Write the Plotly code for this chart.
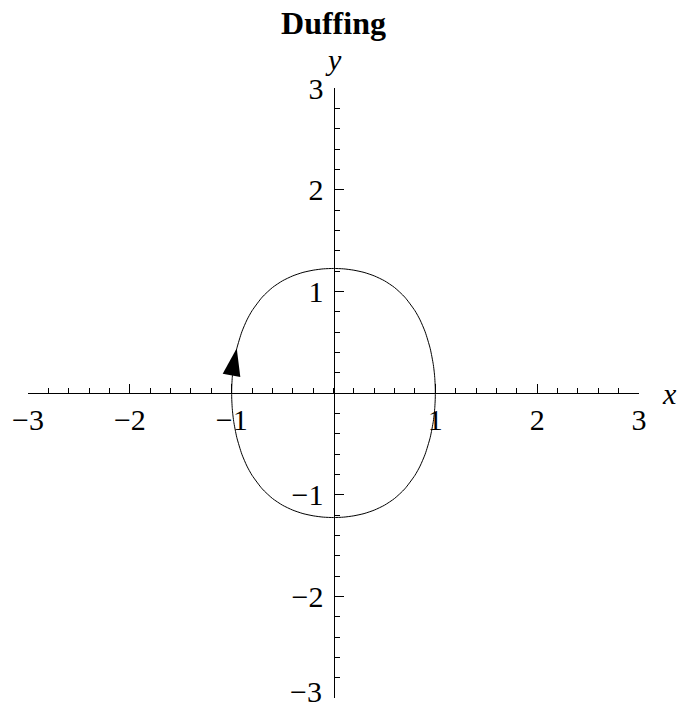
import plotly.graph_objects as go

# Closed phase-plane orbit of the Duffing oscillator, traced clockwise from (1, 0)
orbit_x = [1.0, 0.999, 0.995, 0.99, 0.98, 0.95, 0.9, 0.85, 0.8, 0.7, 0.6, 0.5, 0.4, 0.3, 0.2, 0.1, 0.0,
           -0.1, -0.2, -0.3, -0.4, -0.5, -0.6, -0.7, -0.8, -0.85, -0.9, -0.95, -0.98, -0.99, -0.995, -0.999, -1.0,
           -0.999, -0.995, -0.99, -0.98, -0.95, -0.9, -0.85, -0.8, -0.7, -0.6, -0.5, -0.4, -0.3, -0.2, -0.1, 0.0,
           0.1, 0.2, 0.3, 0.4, 0.5, 0.6, 0.7, 0.8, 0.85, 0.9, 0.95, 0.98, 0.99, 0.995, 0.999, 1.0]
orbit_y = [0.0, -0.063, -0.141, -0.199, -0.280, -0.436, -0.602, -0.719, -0.809, -0.943, -1.037, -1.104, -1.152, -1.186, -1.208, -1.221, -1.225,
           -1.221, -1.208, -1.186, -1.152, -1.104, -1.037, -0.943, -0.809, -0.719, -0.602, -0.436, -0.280, -0.199, -0.141, -0.063, 0.0,
           0.063, 0.141, 0.199, 0.280, 0.436, 0.602, 0.719, 0.809, 0.943, 1.037, 1.104, 1.152, 1.186, 1.208, 1.221, 1.225,
           1.221, 1.208, 1.186, 1.152, 1.104, 1.037, 0.943, 0.809, 0.719, 0.602, 0.436, 0.280, 0.199, 0.141, 0.063, 0.0]

# Direction-of-motion arrow on the left branch
arrow_x = [-0.95]
arrow_y = [0.44]
arrow_angle = 11

tick_values = [-3, -2, -1, 1, 2, 3]
tick_labels = ["\u22123", "\u22122", "\u22121", "1", "2", "3"]
# the lowest y label sits a little above its tick so it stays inside the page
y_tick_labels = [""] + tick_labels[1:]

serif = "Liberation Serif, Times New Roman, serif"

fig = go.Figure()
fig.add_trace(go.Scatter(x=orbit_x, y=orbit_y, mode="lines",
                         line=dict(color="black", width=1, shape="spline", smoothing=0.6),
                         hoverinfo="skip", showlegend=False))
fig.add_trace(go.Scatter(x=arrow_x, y=arrow_y, mode="markers",
                         marker=dict(symbol="arrow", size=29, angle=arrow_angle, color="black",
                                     line=dict(width=0)),
                         hoverinfo="skip", showlegend=False))

axis_common = dict(
    range=[-3, 3], tickvals=tick_values,
    ticks="inside", ticklen=9, tickwidth=1, tickcolor="black",
    showline=True, linecolor="black", linewidth=1,
    showgrid=False, zeroline=False, anchor="free", position=0.5,
    tickfont=dict(family=serif, size=30, color="black"),
    ticklabeloverflow="allow", automargin=False,
    minor=dict(dtick=0.2, tick0=0, ticks="inside", ticklen=5, tickwidth=1, tickcolor="black", showgrid=False),
    fixedrange=True,
)

fig.update_layout(
    width=677, height=709,
    margin=dict(l=28, r=38, t=88, b=11, autoexpand=False),
    paper_bgcolor="white", plot_bgcolor="white",
    xaxis=dict(side="bottom", ticklabelstandoff=0, ticktext=tick_labels, **axis_common),
    yaxis=dict(side="left", ticklabelstandoff=4, ticktext=y_tick_labels, **axis_common),
    title=dict(text="<b>Duffing</b>", x=0.5, xanchor="center", xref="paper",
               y=0.968, yref="container", yanchor="middle",
               font=dict(family=serif, size=32, color="black")),
    annotations=[
        dict(text="<i>x</i>", x=1.0507, y=0.5, xref="paper", yref="paper", showarrow=False,
             xanchor="center", yanchor="middle",
             font=dict(family=serif, size=30, color="black")),
        dict(text="<i>y</i>", x=0.5, y=1.046, xref="paper", yref="paper", showarrow=False,
             xanchor="center", yanchor="middle",
             font=dict(family=serif, size=30, color="black")),
        dict(text=tick_labels[0], x=0.484, y=0.011, xref="paper", yref="paper", showarrow=False,
             xanchor="right", yanchor="middle",
             font=dict(family=serif, size=30, color="black")),
    ],
)

fig.write_html("out.html")
